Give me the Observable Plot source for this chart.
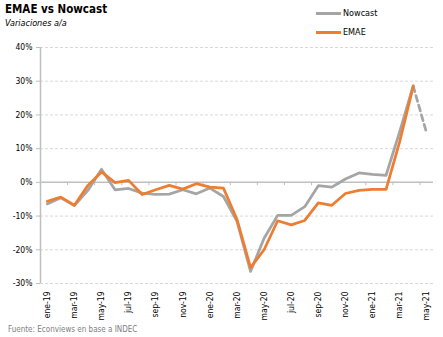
<!DOCTYPE html>
<html><head><meta charset="utf-8">
<script src="https://cdn.jsdelivr.net/npm/d3@7"></script>
<script src="https://cdn.jsdelivr.net/npm/@observablehq/plot@0.6"></script>
<style>
body{margin:0;background:#fff;}
#wrap{position:relative;width:443px;height:337px;font-family:"DejaVu Sans Condensed","DejaVu Sans",sans-serif;color:#000;}
#wrap svg{position:absolute;left:0;top:0;}
.t{position:absolute;white-space:nowrap;line-height:1;}
.title{left:5px;top:4px;font-size:11.5px;font-weight:bold;}
.sub{left:5px;top:19px;font-size:9px;font-style:italic;}
.foot{left:8px;top:326px;font-size:8px;color:#808080;}
.leg{position:absolute;left:316px;width:25px;height:3px;}
.legt{left:343px;font-size:9px;}
</style></head><body>
<div id="wrap">
<div class="t title">EMAE vs Nowcast</div>
<div class="t sub">Variaciones a/a</div>
<div class="leg" style="top:12px;background:#a5a5a5"></div>
<div class="t legt" style="top:9px">Nowcast</div>
<div class="leg" style="top:31px;background:#ed7d31"></div>
<div class="t legt" style="top:28px">EMAE</div>
<div class="t foot">Fuente: Econviews en base a INDEC</div>
</div>
<script>
const months = ["ene-19","feb-19","mar-19","abr-19","may-19","jun-19","jul-19","ago-19","sep-19","oct-19","nov-19","dic-19",
  "ene-20","feb-20","mar-20","abr-20","may-20","jun-20","jul-20","ago-20","sep-20","oct-20","nov-20","dic-20",
  "ene-21","feb-21","mar-21","abr-21","may-21"];
const emae = [-5.6,-4.4,-6.8,-0.9,3.1,-0.1,0.6,-3.6,-2.2,-0.9,-2.0,-0.4,-1.4,-1.7,-11.0,-25.3,-20.0,-11.4,-12.6,-11.3,-6.1,-6.8,-3.3,-2.4,-2.1,-2.1,12.0,28.4];
const nowcast = [-6.4,-4.6,-6.9,-2.4,3.9,-2.2,-1.8,-3.2,-3.6,-3.5,-2.2,-3.4,-1.7,-4.2,-11.6,-26.4,-16.6,-9.8,-9.8,-7.2,-1.0,-1.4,1.0,2.8,2.4,2.1,15.0,28.6,14.5];
const yTicks = [-30,-20,-10,0,10,20,30,40];

const emaeRows = emae.map((v,i)=>({i, v}));
const nowRows = nowcast.map((v,i)=>({i, v}));
const nowSolid = nowRows.slice(0, emae.length);
const nowDash = nowRows.slice(emae.length-1);
const labelIdx = months.map((m,i)=>i).filter(i=>i%2===0);
const boundaries = months.map((m,i)=>i+0.5).filter((b,i)=>i%2===1 && b < months.length-0.5);

const chart = Plot.plot({
  width:443, height:337, marginLeft:40, marginRight:10, marginTop:47, marginBottom:54,
  style:{fontFamily:'"DejaVu Sans Condensed","DejaVu Sans",sans-serif', fontSize:"8.5px", background:"transparent", color:"#000"},
  x:{type:"linear", domain:[-0.5, months.length-0.5]},
  y:{domain:[-30,40]},
  marks:[
    Plot.ruleY(yTicks.filter(v=>v!==0), {stroke:"#d9d9d9", strokeDasharray:"3,2"}),
    Plot.ruleY([0], {stroke:"#bfbfbf", strokeWidth:1.5}),
    Plot.ruleX([-0.5], {stroke:"#bfbfbf", strokeWidth:1.5}),
    Plot.ruleX(boundaries, {y1:0, y2:-1, stroke:"#bfbfbf"}),
    Plot.axisY({ticks:yTicks, tickFormat:d=>d+"%", tickSize:4, tickPadding:4, stroke:"#bfbfbf", fill:"#000", label:null}),
    Plot.axisX({ticks:labelIdx, tickFormat:i=>months[i], tickRotate:-90, tickSize:0, tickPadding:8, fill:"#000", label:null}),
    Plot.line(nowSolid, {x:"i", y:"v", stroke:"#a5a5a5", strokeWidth:2.75}),
    Plot.line(nowDash, {x:"i", y:"v", stroke:"#a5a5a5", strokeWidth:2.75, strokeDasharray:"6,4"}),
    Plot.line(emaeRows, {x:"i", y:"v", stroke:"#ed7d31", strokeWidth:2.75})
  ]
});
document.getElementById("wrap").prepend(chart);
</script>
</body></html>
